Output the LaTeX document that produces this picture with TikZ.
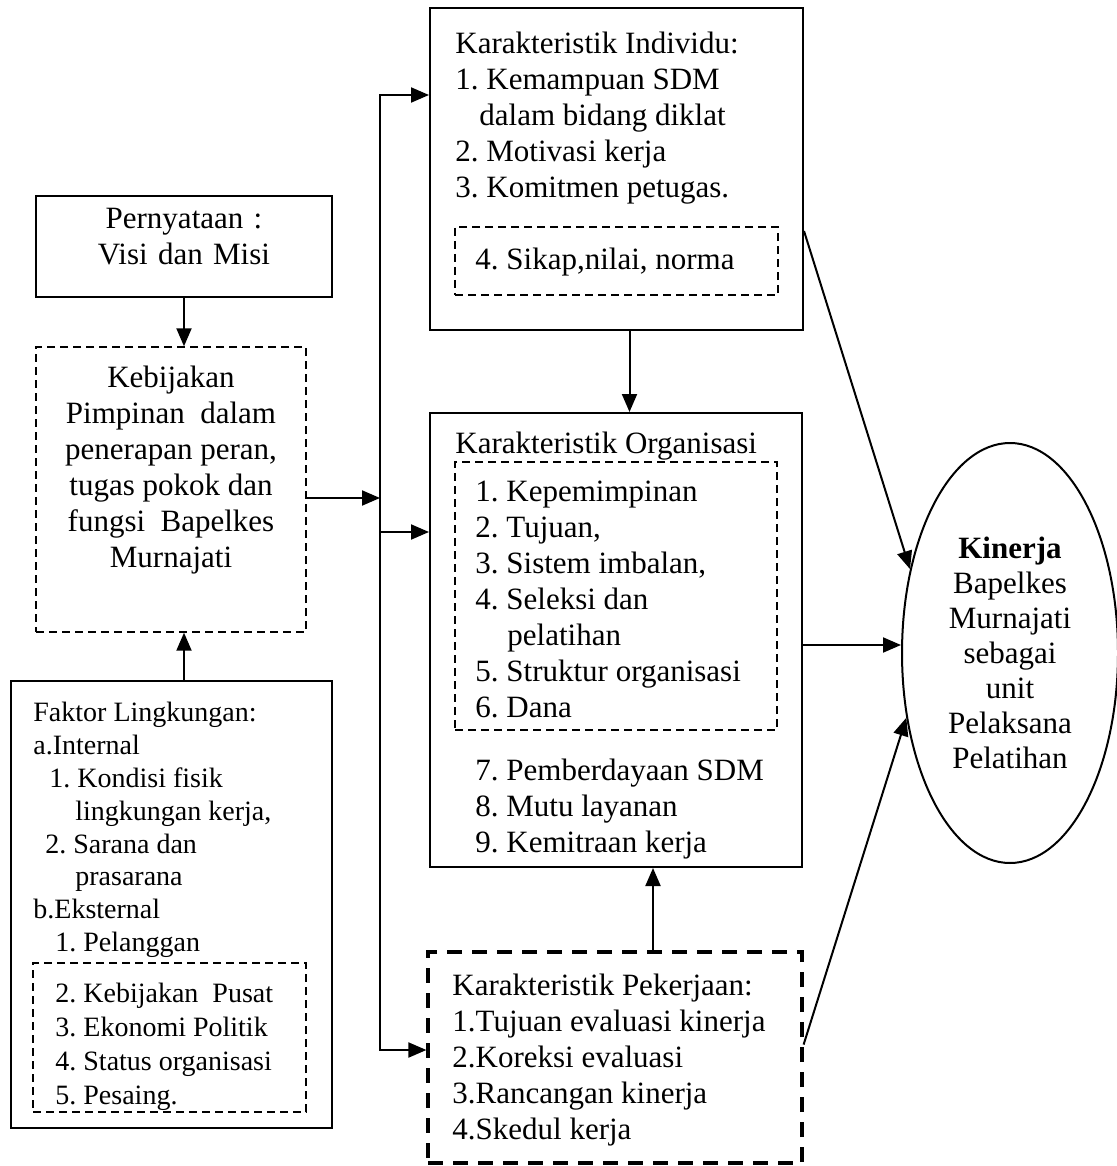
\documentclass[tikz,border=0pt]{standalone}
\usepackage{fontspec}
\setmainfont{Liberation Serif}
\frenchspacing
\usetikzlibrary{shapes.geometric, arrows.meta, positioning, fit}

\begin{document}
\begin{tikzpicture}[
    x=0.5pt, y=-0.5pt,
    box/.style={rectangle, draw, line width=1pt, inner sep=0pt},
    dbox/.style={rectangle, draw, dash pattern=on 4pt off 2.5pt, line width=0.7pt, inner sep=0pt},
    kbox/.style={rectangle, draw, dash pattern=on 7.5pt off 5pt, line width=1.6pt, inner sep=0pt},
    txt/.style={inner sep=0pt, align=left, font=\fontsize{15.5}{18}\selectfont},
    small/.style={inner sep=0pt, align=left, font=\fontsize{14}{16.4}\selectfont},
    arrow/.style={-{Triangle[length=9pt,width=7.5pt]}, line width=1pt}
  ]
  \useasboundingbox (0,0) rectangle (1116,1166);

  % Visi dan Misi
  \node[box, fit={(36,196) (332,297)}, align=center, font=\fontsize{15.5}{18}\selectfont] (pern) {Pernyataan :\\Visi dan Misi};

  % Kebijakan pimpinan
  \node[dbox, fit={(36,347) (306,632)}] (keb) {};
  \node[txt, align=center, anchor=north] (kebtxt) at (171,366) {Kebijakan\\Pimpinan\ \ dalam\\penerapan peran,\\tugas pokok dan\\fungsi\ \ Bapelkes\\Murnajati};

  % Faktor lingkungan
  \node[box, fit={(11,681) (332,1128)}] (fak) {};
  \node[small, anchor=north west] (faktxt) at (33,702) {Faktor Lingkungan:\\a.Internal\\\hspace*{8pt}1. Kondisi fisik\\\hspace*{21pt}lingkungan kerja,\\\hspace*{6pt}2. Sarana dan\\\hspace*{21pt}prasarana\\b.Eksternal\\\hspace*{11pt}1. Pelanggan};
  \node[dbox, fit={(33,963) (306,1112)}] (fakin) {};
  \node[small, anchor=north west, font=\fontsize{14}{17}\selectfont] (fakintxt) at (55,983) {2. Kebijakan\ \ Pusat\\3. Ekonomi Politik\\4. Status organisasi\\5. Pesaing.};

  % jalur pembagi
  \coordinate (bustop) at (380,95);
  \coordinate (busin) at (380,498);
  \coordinate (busorg) at (380,532);
  \coordinate (busbot) at (380,1050);

  % Karakteristik individu
  \node[box, fit={(430,8) (803,330)}] (indiv) {};
  \node[txt, anchor=north west] (indivtxt) at (455,32) {Karakteristik Individu:\\1. Kemampuan SDM\\\hspace*{12pt}dalam bidang diklat\\2. Motivasi kerja\\3. Komitmen petugas.};
  \node[dbox, fit={(455,227) (778,295)}] (indivin) {};
  \node[txt, anchor=base west] (sikap) at (475,270) {4. Sikap,nilai, norma};

  % Karakteristik organisasi
  \node[box, fit={(430,413) (802,867)}] (org) {};
  \node[txt, anchor=base west] (orgtitle) at (455,453) {Karakteristik Organisasi};
  \node[dbox, fit={(455,462) (777,730)}] (orgin) {};
  \node[txt, anchor=north west] (orgintxt) at (475,481) {1. Kepemimpinan\\2. Tujuan,\\3. Sistem imbalan,\\4. Seleksi dan\\\hspace*{16pt}pelatihan\\5. Struktur organisasi\\6. Dana};
  \node[txt, anchor=north west] (orgtxt) at (475,759) {7. Pemberdayaan SDM\\8. Mutu layanan\\9. Kemitraan kerja};

  % Karakteristik pekerjaan
  \node[kbox, fit={(428,952) (802,1163)}] (kerja) {};
  \node[txt, anchor=north west] (kerjatxt) at (452,974) {Karakteristik Pekerjaan:\\1.Tujuan evaluasi kinerja\\2.Koreksi evaluasi\\3.Rancangan kinerja\\4.Skedul kerja};

  % Kinerja
  \node[ellipse, draw, line width=1pt, minimum width=108pt, minimum height=210pt, inner sep=0pt, align=center, font=\fontsize{15.5}{17.5}\selectfont] (kin) at (1010,653) {\textbf{Kinerja}\\Bapelkes\\Murnajati\\sebagai\\unit\\Pelaksana\\Pelatihan};

  % Hubungan
  \draw[arrow] (pern.south) -- (pern.south |- keb.north);
  \draw[arrow] (pern.south |- fak.north) -- (pern.south |- keb.south);
  \draw[arrow] (busin -| keb.east) -- (busin);
  \draw[arrow] (busbot) -- (bustop) -- (bustop -| indiv.west);
  \draw[arrow] (bustop) -- (busbot) -- (busbot -| kerja.west);
  \draw[arrow] (busorg) -- (busorg -| org.west);
  \draw[arrow] ([xshift=6.5pt]indiv.south) -- ([xshift=6.5pt]indiv.south |- org.north);
  \draw[arrow] ([xshift=19pt]kerja.north) -- ([xshift=19pt]kerja.north |- org.south);
  \draw[arrow] ([yshift=-2.5pt]org.east) -- ([yshift=-2.5pt]org.east -| kin.west);
  \draw[arrow] ([yshift=50pt]indiv.south east) -- (kin.140);
  \draw[arrow] ([yshift=60pt]kerja.south east) -- (kin.212);

\end{tikzpicture}
\end{document}
